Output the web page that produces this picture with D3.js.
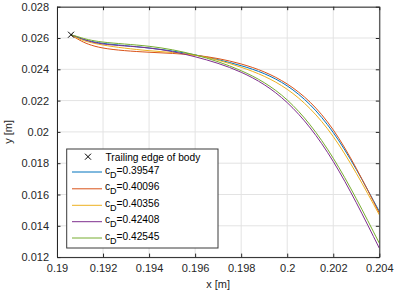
<!DOCTYPE html>
<html><head><meta charset="utf-8">
<script src="https://cdn.jsdelivr.net/npm/d3@7"></script>
<style>
body{margin:0;background:#fff;}
svg{display:block;font-family:"Liberation Sans",Arial,Helvetica,sans-serif;}
</style></head>
<body>
<svg id="chart" width="397" height="295"></svg>
<script>
const xTicks = [0.19, 0.192, 0.194, 0.196, 0.198, 0.2, 0.202, 0.204];
const yTicks = [0.012, 0.014, 0.016, 0.018, 0.02, 0.022, 0.024, 0.026, 0.028];
const xLabels = ["0.19","0.192","0.194","0.196","0.198","0.2","0.202","0.204"];
const yLabels = ["0.012","0.014","0.016","0.018","0.02","0.022","0.024","0.026","0.028"];

const xs = [0.19061, 0.191, 0.192, 0.194, 0.196, 0.198, 0.200, 0.202, 0.204];
const seriesNames = ["0.39547", "0.40096", "0.40356", "0.42408", "0.42545"];
const seriesColors = ["#0072BD", "#D95319", "#EDB120", "#7E2F8E", "#77AC30"];
const yBlue   = [0.02621, 0.02598, 0.02566, 0.02536, 0.02492, 0.02423, 0.02294, 0.01996, 0.01492];
const yOrange = [0.02621, 0.02585, 0.02536, 0.02509, 0.02490, 0.02434, 0.02306, 0.02013, 0.01481];
const yYellow = [0.02621, 0.02592, 0.02555, 0.02519, 0.02490, 0.02413, 0.02272, 0.01970, 0.01470];
const yPurple = [0.02621, 0.02600, 0.02562, 0.02536, 0.02480, 0.02381, 0.02187, 0.01811, 0.01257];
const yGreen  = [0.02621, 0.02604, 0.02574, 0.02547, 0.02492, 0.02391, 0.02204, 0.01832, 0.01289];
const seriesY = [yBlue, yOrange, yYellow, yPurple, yGreen];
const trailingEdge = [0.19061, 0.02621];

const svg = d3.select("#chart");
const L = 57, R = 379.3, T = 6.7, B = 257.1;
const x = d3.scaleLinear().domain([0.19, 0.204]).range([L, R]);
const y = d3.scaleLinear().domain([0.012, 0.028]).range([B, T]);
const axisColor = "#262626";

// grid
const g = svg.append("g");
g.selectAll("line.gx").data(xTicks).enter().append("line")
  .attr("x1", d => x(d)).attr("x2", d => x(d)).attr("y1", T).attr("y2", B)
  .attr("stroke", "#e3e3e3").attr("stroke-width", 1);
g.selectAll("line.gy").data(yTicks).enter().append("line")
  .attr("y1", d => y(d)).attr("y2", d => y(d)).attr("x1", L).attr("x2", R)
  .attr("stroke", "#e3e3e3").attr("stroke-width", 1);

// lines
const lineGen = d3.line().x(d => x(d[0])).y(d => y(d[1])).curve(d3.curveNatural);
svg.append("clipPath").attr("id","clip").append("rect")
  .attr("x", L).attr("y", T).attr("width", R - L).attr("height", B - T);
const lg = svg.append("g").attr("clip-path", "url(#clip)");
seriesY.forEach((ys, i) => {
  const pts = xs.map((xv, j) => [xv, ys[j]]);
  lg.append("path").datum(pts).attr("d", lineGen)
    .attr("fill", "none").attr("stroke", seriesColors[i]).attr("stroke-width", 1);
});

// marker
function cross(sel, cx, cy, s) {
  sel.append("path")
    .attr("d", `M${cx - s},${cy - s}L${cx + s},${cy + s}M${cx - s},${cy + s}L${cx + s},${cy - s}`)
    .attr("stroke", "#000").attr("stroke-width", 1).attr("fill", "none");
}
cross(svg, x(trailingEdge[0]), y(trailingEdge[1]), 3);

// axes (ticks inward, box)
const fmtX = (d, i) => xLabels[i];
const fmtY = (d, i) => yLabels[i];
const axB = svg.append("g").attr("transform", `translate(0,${B})`)
  .call(d3.axisBottom(x).tickValues(xTicks).tickFormat(fmtX).tickSizeInner(-3.5).tickSizeOuter(0).tickPadding(7));
const axT = svg.append("g").attr("transform", `translate(0,${T})`)
  .call(d3.axisTop(x).tickValues(xTicks).tickFormat("").tickSizeInner(-3.5).tickSizeOuter(0));
const axL = svg.append("g").attr("transform", `translate(${L},0)`)
  .call(d3.axisLeft(y).tickValues(yTicks).tickFormat(fmtY).tickSizeInner(-3.5).tickSizeOuter(0).tickPadding(8));
const axR = svg.append("g").attr("transform", `translate(${R},0)`)
  .call(d3.axisRight(y).tickValues(yTicks).tickFormat("").tickSizeInner(-3.5).tickSizeOuter(0));
[axB, axT, axL, axR].forEach(a => {
  a.select(".domain").attr("stroke", axisColor).attr("stroke-width", 1);
  a.selectAll(".tick line").attr("stroke", axisColor).attr("stroke-width", 1);
  a.selectAll("text").attr("fill", axisColor).attr("font-size", 11)
    .attr("font-family", "'Liberation Sans',Arial,Helvetica,sans-serif");
});

// axis labels
svg.append("text").attr("x", (L + R) / 2).attr("y", 288).attr("text-anchor", "middle")
  .attr("font-size", 11).attr("fill", axisColor).text("x [m]");
svg.append("text").attr("transform", `translate(12,${(T + B) / 2}) rotate(-90)`)
  .attr("text-anchor", "middle").attr("font-size", 11).attr("fill", axisColor).text("y [m]");

// legend
const leg = svg.append("g");
leg.append("rect").attr("x", 66.7).attr("y", 149).attr("width", 151.3).attr("height", 99)
  .attr("fill", "#fff").attr("stroke", "#3a3a3a").attr("stroke-width", 1);
cross(leg, 88, 156.7, 3);
leg.append("text").attr("x", 105.5).attr("y", 160.5).attr("font-size", 10.2).attr("fill", "#000")
  .text("Trailing edge of body");
const legRows = [172, 188.8, 205.3, 221.7, 238];
seriesNames.forEach((name, i) => {
  const ly = legRows[i];
  leg.append("line").attr("x1", 72).attr("x2", 102).attr("y1", ly).attr("y2", ly)
    .attr("stroke", seriesColors[i]).attr("stroke-width", 1);
  const t = leg.append("text").attr("x", 105).attr("y", ly + 1.5).attr("font-size", 10.2).attr("fill", "#000");
  t.append("tspan").text("c");
  t.append("tspan").attr("dy", 4).attr("font-size", 9).text("D");
  t.append("tspan").attr("dy", -4).text("=" + name);
});
</script>
</body></html>
